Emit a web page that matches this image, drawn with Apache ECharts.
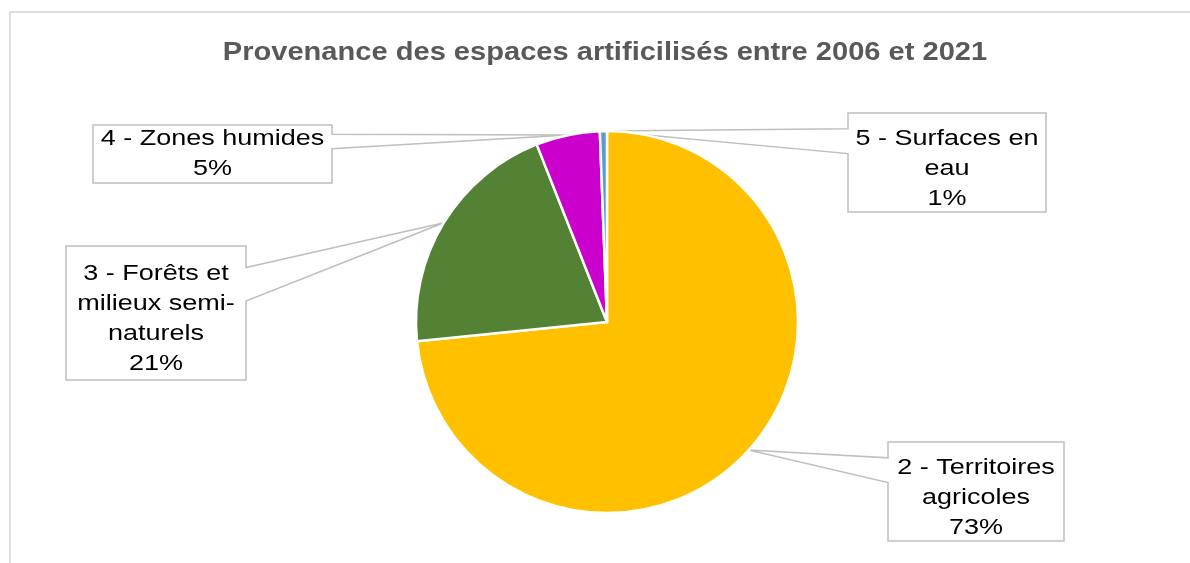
<!DOCTYPE html>
<html>
<head>
<meta charset="utf-8">
<script src="https://cdn.jsdelivr.net/npm/echarts@6/dist/echarts.min.js"></script>
<style>
  html, body { margin: 0; padding: 0; background: #fff; }
  #main { width: 1190px; height: 563px; }
</style>
</head>
<body>
<div id="main"></div>
<script>
// données
const titleText = "Provenance des espaces artificilisés entre 2006 et 2021";
const categories = ["2 - Territoires agricoles", "3 - Forêts et milieux semi-naturels", "4 - Zones humides", "5 - Surfaces en eau"];
const values = [73.4, 20.6, 5.4, 0.6];
// libellés affichés (retours à la ligne comme sur l'original)
const labelNames = ["2 - Territoires\nagricoles", "3 - Forêts et\nmilieux semi-\nnaturels", "4 - Zones humides", "5 - Surfaces en\neau"];

const colors = ["#FFC000", "#548235", "#CC00CC", "#5B9BD5"];
// boîtes des étiquettes : [gauche, haut, largeur, hauteur]
const boxes = [[888, 442, 176, 99], [66, 246, 180, 134], [93, 125, 239, 58], [848, 113, 198, 99]];

const chart = echarts.init(document.getElementById("main"));

chart.setOption({
  animation: false,
  series: [
    {
      type: "pie",
      center: [607, 322],
      radius: 191,
      startAngle: 90,
      clockwise: true,
      avoidLabelOverlap: false,
      label: { show: false },
      labelLine: { show: false },
      emphasis: { disabled: true },
      itemStyle: { borderColor: "#fff", borderWidth: 2.5 },
      data: categories.map((name, i) => ({
        name: name,
        value: values[i],
        itemStyle: { color: colors[i] }
      }))
    }
  ]
});

// position des secteurs calculée par echarts
const total = values.reduce((a, b) => a + b, 0);
const getAnchor = (i) => {
  let lay = null;
  try {
    lay = chart.getModel().getSeriesByIndex(0).getData().getItemLayout(i);
  } catch (e) {}
  if (!lay) {
    let acc = 0;
    for (let k = 0; k < i; k++) acc += values[k];
    const s = -Math.PI / 2 + (acc / total) * 2 * Math.PI;
    lay = { cx: 607, cy: 322, r: 191, startAngle: s, endAngle: s + (values[i] / total) * 2 * Math.PI };
  }
  const mid = (lay.startAngle + lay.endAngle) / 2;
  return [lay.cx + lay.r * Math.cos(mid), lay.cy + lay.r * Math.sin(mid)];
};

// bulles (rectangle + pointe) comme dans Excel
const callouts = [];
categories.forEach((c, i) => {
  const [L, T, W, H] = boxes[i];
  const R = L + W, B = T + H;
  const a = getAnchor(i);
  const y1 = T + 0.16 * H, y2 = T + 0.41 * H;
  let pts;
  if (a[0] > R) {
    pts = [[L, T], [R, T], [R, y1], a, [R, y2], [R, B], [L, B]];
  } else {
    pts = [[L, T], [R, T], [R, B], [L, B], [L, y2], a, [L, y1]];
  }
  callouts.push({
    type: "polygon",
    silent: true,
    z: 1,
    shape: { points: pts },
    style: { fill: "#fff", stroke: "#BFBFBF", lineWidth: 1.5 }
  });
  const text = labelNames[i] + "\n" + Math.round((values[i] / total) * 100) + "%";
  const nLines = text.split("\n").length;
  callouts.push({
    type: "text",
    silent: true,
    z: 10,
    x: L + W / 2,
    y: T + H / 2 + (nLines > 2 ? 6 : 0),
    scaleX: 1.2,
    style: {
      text: text,
      fontFamily: "Liberation Sans, Arial, sans-serif",
      fontSize: 22.5,
      lineHeight: 30,
      fill: "#000",
      align: "center",
      verticalAlign: "middle"
    }
  });
});

chart.setOption({
  graphic: [
    {
      type: "polyline",
      silent: true,
      shape: { points: [[10, 600], [10, 12], [1200, 12]] },
      style: { stroke: "#D4D4D4", lineWidth: 1.5, fill: null }
    },
    {
      type: "text",
      silent: true,
      x: 605,
      y: 53,
      scaleX: 1.14,
      style: {
        text: titleText,
        fontFamily: "Liberation Sans, Arial, sans-serif",
        fontWeight: "bold",
        fontSize: 25.5,
        fill: "#595959",
        align: "center",
        verticalAlign: "middle"
      }
    }
  ].concat(callouts)
});
</script>
</body>
</html>
